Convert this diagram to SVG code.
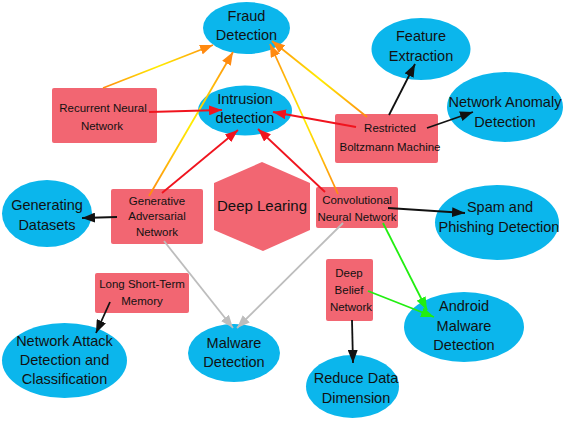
<svg xmlns="http://www.w3.org/2000/svg" width="565" height="421" viewBox="0 0 565 421">
<style>
.ell{fill:#0BB6EC}
.box{fill:#F26672}
.et{font-family:"Liberation Sans",Arial,sans-serif;font-size:14.5px;fill:#111;text-anchor:middle}
.bt{font-family:"Liberation Sans",Arial,sans-serif;font-size:11.5px;fill:#111;text-anchor:middle}
.c{fill:none;stroke-width:1.8}
.or{stroke:url(#og);marker-end:url(#mo)}
.rd{stroke:#F0141E;marker-end:url(#mr)}
.bk{stroke:#111;marker-end:url(#mb)}
.gy{stroke:#BDBDBD;marker-end:url(#mg)}
.gn{stroke:#22EE11;marker-end:url(#mn)}
</style>
<defs>
<linearGradient id="og" x1="0" y1="0" x2="0" y2="1">
<stop offset="0" stop-color="#FF8A10"/>
<stop offset="0.5" stop-color="#FFEE00"/>
<stop offset="1" stop-color="#FF8A10"/>
</linearGradient>
<marker id="mo" markerUnits="userSpaceOnUse" markerWidth="14" markerHeight="10" refX="13" refY="5" orient="auto"><path d="M0,0 L13,5 L0,10 z" fill="#FF8A10"/></marker>
<marker id="mr" markerUnits="userSpaceOnUse" markerWidth="14" markerHeight="10" refX="13" refY="5" orient="auto"><path d="M0,0 L13,5 L0,10 z" fill="#F0141E"/></marker>
<marker id="mb" markerUnits="userSpaceOnUse" markerWidth="14" markerHeight="10" refX="13" refY="5" orient="auto"><path d="M0,0 L13,5 L0,10 z" fill="#111"/></marker>
<marker id="mg" markerUnits="userSpaceOnUse" markerWidth="14" markerHeight="10" refX="13" refY="5" orient="auto"><path d="M0,0 L13,5 L0,10 z" fill="#BDBDBD"/></marker>
<marker id="mn" markerUnits="userSpaceOnUse" markerWidth="14" markerHeight="10" refX="13" refY="5" orient="auto"><path d="M0,0 L13,5 L0,10 z" fill="#22EE11"/></marker>
</defs>
<rect width="565" height="421" fill="#fff"/>

<g id="fraud"><ellipse class="ell" cx="246.5" cy="28" rx="43.5" ry="26"/><text class="et" x="246.5" y="21">Fraud</text><text class="et" x="246.5" y="40">Detection</text></g>
<g id="intrusion"><ellipse class="ell" cx="245" cy="110.5" rx="47" ry="25"/><text class="et" x="245" y="104">Intrusion</text><text class="et" x="245" y="123">detection</text></g>
<g id="feature"><ellipse class="ell" cx="421" cy="49" rx="49.5" ry="31"/><text class="et" x="421" y="41">Feature</text><text class="et" x="421" y="61">Extraction</text></g>
<g id="anomaly"><ellipse class="ell" cx="505" cy="107" rx="58" ry="35"/><text class="et" x="505" y="107">Network Anomaly</text><text class="et" x="505" y="127">Detection</text></g>
<g id="generating"><ellipse class="ell" cx="47" cy="213.5" rx="45" ry="33.5"/><text class="et" x="47" y="210">Generating</text><text class="et" x="47" y="230">Datasets</text></g>
<g id="attack"><ellipse class="ell" cx="64.5" cy="360.5" rx="62.5" ry="37.5"/><text class="et" x="64.5" y="346">Network Attack</text><text class="et" x="64.5" y="365">Detection and</text><text class="et" x="64.5" y="384">Classification</text></g>
<g id="malware"><ellipse class="ell" cx="234" cy="353" rx="46" ry="29"/><text class="et" x="234" y="348">Malware</text><text class="et" x="234" y="367">Detection</text></g>
<g id="spam"><ellipse class="ell" cx="497" cy="222.5" rx="62" ry="37.5"/><text class="et" x="500" y="212">Spam and</text><text class="et" x="499" y="232">Phishing Detection</text></g>
<g id="android"><ellipse class="ell" cx="464" cy="327" rx="60" ry="35"/><text class="et" x="464" y="311">Android</text><text class="et" x="464" y="331">Malware</text><text class="et" x="464" y="350">Detection</text></g>
<g id="reduce"><ellipse class="ell" cx="352.5" cy="386.5" rx="46.5" ry="31.5"/><text class="et" x="356" y="383">Reduce Data</text><text class="et" x="356" y="403">Dimension</text></g>

<g id="rnn"><rect class="box" x="52" y="88" width="105" height="55" rx="2"/><text class="bt" x="103" y="112">Recurrent Neural</text><text class="bt" x="102" y="130">Network</text></g>
<g id="rbm"><rect class="box" x="335" y="114" width="103" height="49" rx="2"/><text class="bt" x="390" y="132">Restricted</text><text class="bt" x="390" y="151">Boltzmann Machine</text></g>
<g id="gan"><rect class="box" x="111" y="189" width="92" height="55" rx="2"/><text class="bt" x="157" y="205">Generative</text><text class="bt" x="157" y="220">Adversarial</text><text class="bt" x="157" y="236">Network</text></g>
<g id="cnn"><rect class="box" x="316" y="187" width="82" height="41" rx="2"/><text class="bt" x="357" y="204">Convolutional</text><text class="bt" x="357" y="221">Neural Network</text></g>
<g id="lstm"><rect class="box" x="95" y="273" width="94" height="40" rx="2"/><text class="bt" x="142" y="288">Long Short-Term</text><text class="bt" x="142" y="305">Memory</text></g>
<g id="dbn"><rect class="box" x="326" y="259" width="47" height="62" rx="2"/><text class="bt" x="349" y="277">Deep</text><text class="bt" x="349" y="294">Belief</text><text class="bt" x="351" y="311">Network</text></g>
<g id="deep"><polygon class="box" points="262,162 310,183 310,230 263,251 214,230 214,183"/><text class="et" x="262" y="211" style="font-size:15px">Deep Learing</text></g>

<g id="connectors">
<line class="c or" x1="103" y1="88" x2="213" y2="45"/>
<line class="c or" x1="149" y1="196" x2="233" y2="52"/>
<line class="c or" x1="338" y1="194" x2="270" y2="44"/>
<line class="c or" x1="367" y1="117" x2="272" y2="41"/>
<line class="c rd" x1="149" y1="112" x2="222" y2="110"/>
<line class="c rd" x1="162" y1="193" x2="238" y2="130"/>
<line class="c rd" x1="325" y1="192" x2="258" y2="129"/>
<line class="c rd" x1="356" y1="127" x2="273" y2="112"/>
<line class="c bk" x1="389" y1="115" x2="415" y2="64"/>
<line class="c bk" x1="427" y1="128" x2="473" y2="112"/>
<line class="c bk" x1="117" y1="217" x2="82" y2="218"/>
<line class="c gy" x1="164" y1="241" x2="233" y2="328"/>
<line class="c gy" x1="343" y1="223" x2="237" y2="328"/>
<line class="c bk" x1="388" y1="208" x2="465" y2="213"/>
<line class="c gn" x1="383" y1="223" x2="427" y2="310"/>
<line class="c gn" x1="368" y1="291" x2="434" y2="317"/>
<line class="c bk" x1="352" y1="320" x2="353" y2="363"/>
<line class="c bk" x1="110" y1="302" x2="96" y2="333"/>
</g>
</svg>
